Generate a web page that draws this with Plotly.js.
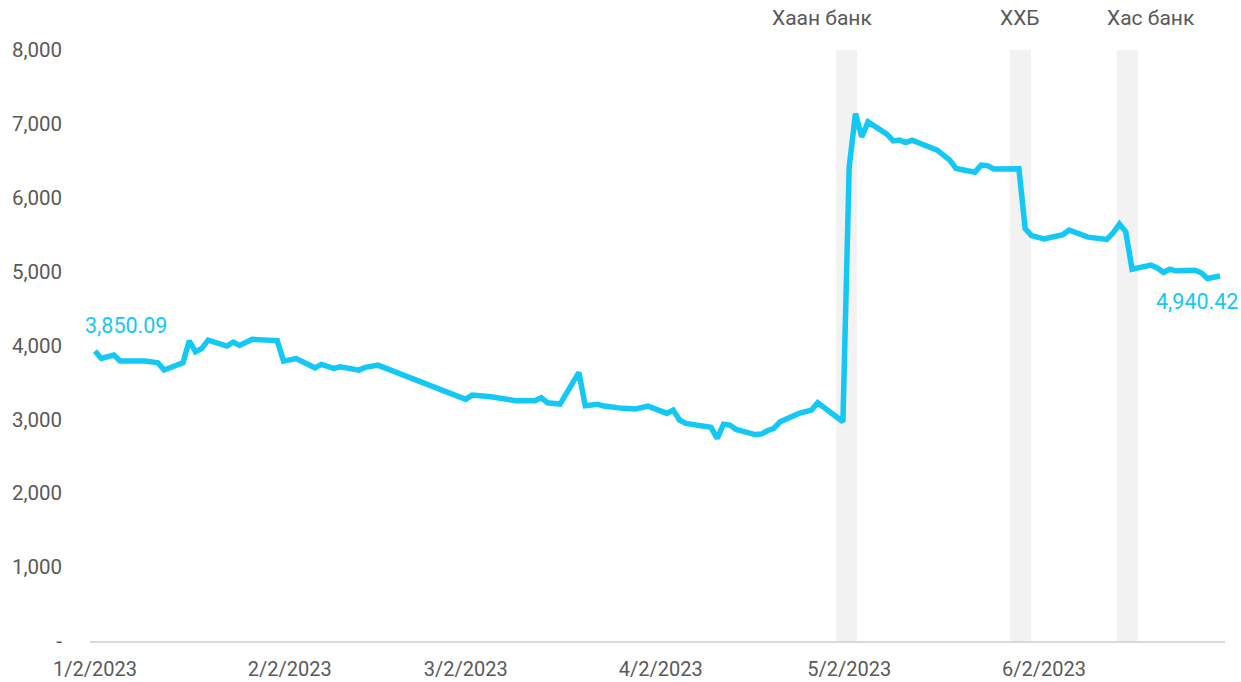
<!DOCTYPE html>
<html>
<head>
<meta charset="utf-8">
<script src="https://cdn.plot.ly/plotly-3.0.1.min.js"></script>
<style>
  html, body { margin: 0; padding: 0; background: #fff; }
  #chart { width: 1241px; height: 682px; }
</style>
</head>
<body>
<div id="chart"></div>
<script>
// index level
const dates = [
    '2023-01-02', '2023-01-03', '2023-01-05', '2023-01-06', '2023-01-10', '2023-01-12',
    '2023-01-13', '2023-01-16', '2023-01-17', '2023-01-18', '2023-01-19', '2023-01-20',
    '2023-01-23', '2023-01-24', '2023-01-25', '2023-01-27', '2023-01-31', '2023-02-01',
    '2023-02-03', '2023-02-06', '2023-02-07', '2023-02-09', '2023-02-10', '2023-02-13',
    '2023-02-14', '2023-02-16', '2023-03-02', '2023-03-03', '2023-03-06', '2023-03-10',
    '2023-03-13', '2023-03-14', '2023-03-15', '2023-03-17', '2023-03-20', '2023-03-21',
    '2023-03-23', '2023-03-24', '2023-03-27', '2023-03-29', '2023-03-31', '2023-04-03',
    '2023-04-04', '2023-04-05', '2023-04-06', '2023-04-10', '2023-04-11', '2023-04-12',
    '2023-04-13', '2023-04-14', '2023-04-17', '2023-04-18', '2023-04-19', '2023-04-20',
    '2023-04-21', '2023-04-24', '2023-04-26', '2023-04-27', '2023-05-01', '2023-05-02',
    '2023-05-03', '2023-05-04', '2023-05-05', '2023-05-08', '2023-05-09', '2023-05-10',
    '2023-05-11', '2023-05-12', '2023-05-16', '2023-05-18', '2023-05-19', '2023-05-22',
    '2023-05-23', '2023-05-24', '2023-05-25', '2023-05-26', '2023-05-29', '2023-05-30',
    '2023-05-31', '2023-06-02', '2023-06-05', '2023-06-06', '2023-06-09', '2023-06-12',
    '2023-06-13', '2023-06-14', '2023-06-15', '2023-06-16', '2023-06-19', '2023-06-20',
    '2023-06-21', '2023-06-22', '2023-06-23', '2023-06-26', '2023-06-27', '2023-06-28',
    '2023-06-30'
];
const values = [
    3925, 3825, 3870, 3789, 3789, 3766,
    3667, 3766, 4064, 3915, 3961, 4073,
    3992, 4046, 4001, 4083, 4066, 3789,
    3823, 3698, 3744, 3690, 3712, 3667,
    3704, 3735, 3271, 3329, 3306, 3252,
    3252, 3292, 3225, 3207, 3636, 3184,
    3203, 3180, 3149, 3140, 3180, 3081,
    3126, 2991, 2946, 2892, 2743, 2934,
    2923, 2865, 2794, 2801, 2846, 2878,
    2968, 3081, 3126, 3225, 2968, 6418,
    7141, 6824, 7027, 6861, 6770, 6780,
    6748, 6780, 6644, 6509, 6397, 6346,
    6441, 6435, 6390, 6394, 6394, 5582,
    5487, 5442, 5501, 5562, 5467, 5436,
    5525, 5643, 5539, 5034, 5088, 5051,
    4989, 5034, 5011, 5020, 4984, 4908,
    4940.42
];

// bank events (shaded bands)
const eventNames = ['Хаан банк', 'ХХБ', 'Хас банк'];
const eventStart = ['2023-04-29 22:00', '2023-05-27 14:00', '2023-06-13 14:00'];
const eventEnd = ['2023-05-03 06:00', '2023-05-30 22:00', '2023-06-16 22:00'];
const eventLabelAt = ['2023-04-27 18:00', '2023-05-29 06:00', '2023-06-19 00:00'];

const yTicks = [0, 1000, 2000, 3000, 4000, 5000, 6000, 7000, 8000];
const yTickText = ['-', '1,000', '2,000', '3,000', '4,000', '5,000', '6,000', '7,000', '8,000'];
const xTicks = ['2023-01-02', '2023-02-02', '2023-03-02', '2023-04-02', '2023-05-02', '2023-06-02'];
const xTickText = ['1/2/2023', '2/2/2023', '3/2/2023', '4/2/2023', '5/2/2023', '6/2/2023'];
const endLabels = ['3,850.09', '4,940.42'];

const lineColor = '#14c8f5';
const grey = '#595959';

const shapes = eventStart.map((s, i) => ({
    type: 'rect', xref: 'x', yref: 'y',
    x0: s, x1: eventEnd[i], y0: 0, y1: 8080,
    fillcolor: '#f2f2f2', line: { width: 0 }, layer: 'below'
}));

const annotations = eventNames.map((name, i) => ({
    text: name, xref: 'x', yref: 'paper',
    x: eventLabelAt[i], y: 1.054, yanchor: 'middle',
    showarrow: false, font: { size: 21, color: grey }
}));

annotations.push({
    text: endLabels[0], xref: 'x', yref: 'y',
    x: dates[0], y: values[0], xanchor: 'left', yanchor: 'middle',
    xshift: -12, yshift: 26, showarrow: false,
    font: { size: 21.5, color: lineColor }
});
annotations.push({
    text: endLabels[1], xref: 'x', yref: 'y',
    x: dates[dates.length - 1], y: values[values.length - 1],
    xanchor: 'center', yanchor: 'middle',
    xshift: -23, yshift: -25, showarrow: false,
    font: { size: 21.5, color: lineColor }
});

const layout = {
    width: 1241,
    height: 682,
    margin: { t: 50, r: 16, b: 41, l: 90 },
    paper_bgcolor: '#fff',
    plot_bgcolor: '#fff',
    font: { family: 'Roboto, sans-serif', size: 20, color: grey },
    showlegend: false,
    xaxis: {
        type: 'date',
        range: ['2023-01-01 05:00', '2023-06-30 19:00'],
        tickvals: xTicks,
        ticktext: xTickText,
        showgrid: false,
        zeroline: false,
        showline: true,
        linecolor: '#d9d9d9',
        linewidth: 2,
        ticks: '',
        ticklabelstandoff: 9,
        tickfont: { size: 20, color: grey }
    },
    yaxis: {
        range: [0, 8000],
        tickvals: yTicks,
        ticktext: yTickText,
        showgrid: false,
        zeroline: false,
        showline: false,
        ticks: '',
        ticklabelstandoff: 27,
        tickfont: { size: 20.5, color: grey }
    },
    shapes: shapes,
    annotations: annotations
};

Plotly.newPlot('chart', [{
    x: dates,
    y: values,
    type: 'scatter',
    mode: 'lines',
    line: { color: lineColor, width: 5.5 },
    hoverinfo: 'skip'
}], layout, { displayModeBar: false, staticPlot: true });
</script>
</body>
</html>
